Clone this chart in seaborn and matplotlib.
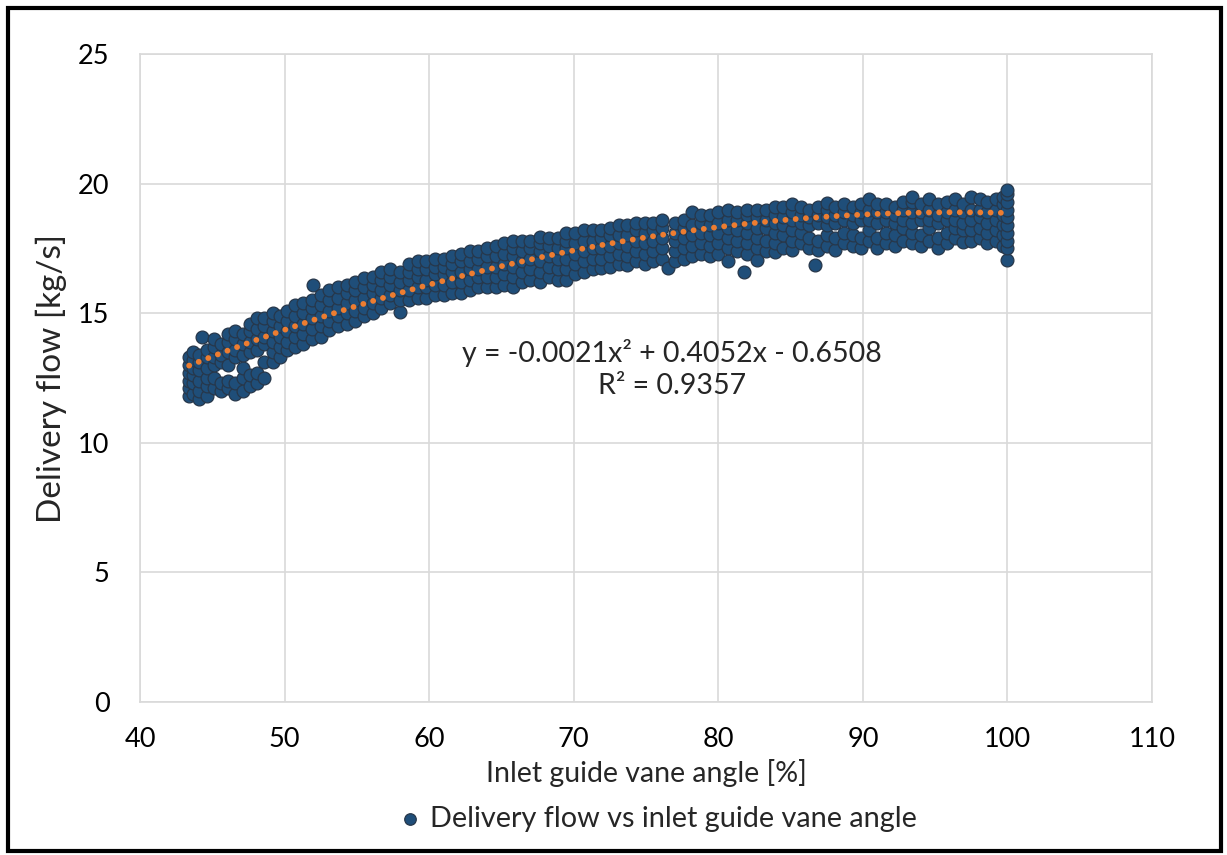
import numpy as np
import pandas as pd
import matplotlib.pyplot as plt
import seaborn as sns
from matplotlib.patches import Rectangle

# scatter values, one vane-angle column per entry
low_cols = [
    (43.4, [11.8, 12.1, 12.4, 12.7, 13.0, 13.3]),
    (43.7, [11.9, 12.3, 12.6, 12.9, 13.2, 13.5]),
    (44.1, [11.7, 12.0, 12.4, 12.8, 13.1, 13.4]),
    (44.3, [14.1]),
    (44.6, [11.8, 12.2, 12.5, 12.9, 13.3, 13.6]),
    (45.1, [12.1, 12.5, 13.0, 13.3, 13.7, 14.0]),
    (45.6, [12.0, 12.3, 13.1, 13.4, 13.8]),
    (46.1, [12.1, 12.4, 13.0, 13.5, 13.9, 14.2]),
    (46.6, [11.9, 12.3, 13.3, 13.6, 14.0, 14.3]),
    (47.1, [12.0, 12.5, 12.9, 13.4, 13.8, 14.2]),
    (47.6, [12.2, 12.6, 13.5, 13.9, 14.3, 14.6]),
    (48.1, [12.3, 12.7, 13.6, 14.0, 14.4, 14.8]),
    (48.6, [12.5, 13.1, 13.8, 14.1, 14.5, 14.8]),
    (49.2, [13.1, 13.5, 13.9, 14.3, 14.7, 15.0]),
    (49.7, [13.3, 13.7, 14.1, 14.5, 14.9]),
    (50.2, [13.6, 13.9, 14.3, 14.7, 15.1]),
    (50.7, [13.7, 14.1, 14.5, 14.9, 15.3]),
    (51.3, [13.8, 14.2, 14.6, 15.0, 15.4]),
    (51.9, [14.0, 14.4, 14.8, 15.2, 15.5]),
    (52.0, [16.1]),
    (52.5, [14.1, 14.5, 14.9, 15.3, 15.7]),
    (53.1, [14.35, 14.7, 15.1, 15.5, 15.9]),
    (53.7, [14.5, 14.9, 15.2, 15.6, 16.0]),
    (54.3, [14.6, 15.0, 15.4, 15.8, 16.1]),
    (54.9, [14.7, 15.1, 15.5, 15.9, 16.2]),
]
mid_cols = [
    (55.5, [14.9, 15.2, 15.6, 16.0, 16.35]),
    (56.1, [15.0, 15.4, 15.8, 16.1, 16.4]),
    (56.7, [15.2, 15.6, 15.9, 16.3, 16.6]),
    (57.3, [15.4, 15.7, 16.1, 16.4, 16.7]),
    (58.0, [15.05, 15.5, 15.9, 16.2, 16.6]),
    (58.6, [15.5, 15.9, 16.3, 16.6, 16.9]),
    (59.2, [15.6, 16.0, 16.4, 16.7, 17.0]),
    (59.8, [15.6, 16.0, 16.3, 16.7, 17.0]),
    (60.4, [15.7, 16.1, 16.5, 16.8, 17.1]),
    (61.0, [15.7, 16.1, 16.5, 16.8, 17.1]),
    (61.6, [15.8, 16.2, 16.6, 16.9, 17.2]),
    (62.2, [15.8, 16.2, 16.6, 17.0, 17.3]),
    (62.8, [15.9, 16.3, 16.7, 17.0, 17.4]),
    (63.4, [16.0, 16.4, 16.7, 17.1, 17.4]),
    (64.0, [16.0, 16.4, 16.8, 17.2, 17.5]),
    (64.6, [16.0, 16.4, 16.8, 17.2, 17.6]),
    (65.2, [16.1, 16.5, 16.9, 17.3, 17.7]),
    (65.8, [16.0, 16.4, 16.8, 17.2, 17.5, 17.8]),
    (66.4, [16.2, 16.6, 17.0, 17.4, 17.8]),
    (67.0, [16.3, 16.7, 17.1, 17.5, 17.8]),
    (67.7, [16.2, 16.6, 17.0, 17.4, 17.7, 17.95]),
    (68.3, [16.4, 16.8, 17.2, 17.6, 17.9]),
    (68.9, [16.3, 16.7, 17.1, 17.5, 17.9]),
    (69.5, [16.3, 16.7, 17.1, 17.5, 17.8, 18.1]),
    (70.1, [16.5, 16.9, 17.3, 17.7, 18.1]),
    (70.7, [16.6, 17.0, 17.4, 17.8, 18.2]),
    (71.3, [16.7, 17.1, 17.5, 17.8, 18.2]),
    (71.9, [16.75, 17.1, 17.5, 17.9, 18.2]),
    (72.5, [16.8, 17.2, 17.6, 18.0, 18.3]),
    (73.1, [16.9, 17.3, 17.7, 18.0, 18.4]),
    (73.7, [16.85, 17.2, 17.6, 18.0, 18.4]),
    (74.3, [17.0, 17.4, 17.8, 18.2, 18.5]),
    (74.9, [16.9, 17.3, 17.7, 18.1, 18.5]),
    (75.5, [17.0, 17.4, 17.8, 18.2, 18.5]),
    (76.1, [17.1, 17.5, 17.9, 18.3, 18.6]),
    (76.5, [16.75]),
    (77.0, [17.0, 17.4, 17.8, 18.1, 18.5]),
    (77.6, [17.1, 17.5, 17.9, 18.3, 18.6]),
    (78.2, [17.2, 17.6, 18.0, 18.4, 18.9]),
    (78.8, [17.3, 17.7, 18.1, 18.5, 18.8]),
    (79.4, [17.2, 17.6, 18.0, 18.4, 18.8]),
]
high_cols = [
    (80.0, [17.3, 17.7, 18.1, 18.5, 18.9]),
    (80.7, [17.0, 17.5, 17.9, 18.3, 18.6, 19.0]),
    (81.3, [17.4, 17.8, 18.2, 18.6, 18.9]),
    (81.8, [16.6]),
    (82.0, [17.3, 17.7, 18.1, 18.5, 18.8, 19.0]),
    (82.7, [17.05, 17.5, 17.9, 18.3, 18.7, 19.0]),
    (83.3, [17.4, 17.8, 18.3, 18.6, 19.0]),
    (83.9, [17.35, 17.7, 18.1, 18.5, 18.8, 19.1]),
    (84.5, [17.5, 18.0, 18.4, 18.7, 19.1]),
    (85.1, [17.45, 17.8, 18.2, 18.6, 18.9, 19.2]),
    (85.7, [17.7, 18.1, 18.5, 18.8, 19.1]),
    (86.3, [17.5, 17.9, 18.4, 18.7, 19.0]),
    (86.7, [16.85]),
    (86.9, [17.45, 17.8, 18.5, 18.8, 19.1]),
    (87.5, [17.6, 18.0, 18.4, 18.7, 19.0, 19.25]),
    (88.1, [17.45, 17.9, 18.5, 18.8, 19.1]),
    (88.7, [17.7, 18.1, 18.6, 18.9, 19.2]),
    (89.3, [17.6, 18.0, 18.5, 18.8, 19.1]),
    (89.9, [17.5, 17.9, 18.6, 18.9, 19.2]),
    (90.4, [17.8, 18.2, 18.6, 19.0, 19.4]),
    (91.0, [17.5, 17.9, 18.5, 18.9, 19.2]),
    (91.6, [17.7, 18.1, 18.6, 18.9, 19.2]),
    (92.2, [17.6, 18.0, 18.5, 18.8, 19.1]),
    (92.8, [17.8, 18.3, 18.6, 19.0, 19.3]),
    (93.4, [17.7, 18.1, 18.5, 18.9, 19.3, 19.5]),
    (94.0, [17.6, 18.0, 18.6, 18.9, 19.2]),
    (94.6, [17.8, 18.3, 18.6, 19.0, 19.4]),
    (95.2, [17.5, 17.9, 18.5, 18.8, 19.2]),
    (95.8, [17.7, 18.1, 18.6, 18.9, 19.3]),
    (96.4, [17.9, 18.3, 18.6, 19.0, 19.4]),
    (96.9, [17.75, 18.2, 18.5, 18.9, 19.2]),
    (97.5, [17.8, 18.2, 18.6, 19.0, 19.5]),
    (98.1, [17.9, 18.3, 18.7, 19.0, 19.4]),
    (98.6, [17.7, 18.1, 18.5, 18.9, 19.3]),
    (99.2, [17.8, 18.2, 18.6, 19.0, 19.4]),
    (99.7, [17.6, 18.0, 18.4, 18.8, 19.2, 19.5]),
    (100.0, [17.05, 17.5, 17.8, 18.1, 18.4, 18.7, 19.0, 19.3, 19.6, 19.75]),
]

# Excel polynomial trendline as printed on the chart
trend_coef = [-0.0021, 0.4052, -0.6508]
trend_label = "y = -0.0021x\u00b2 + 0.4052x - 0.6508\nR\u00b2 = 0.9357"

x_ticks = [40, 50, 60, 70, 80, 90, 100, 110]
y_ticks = [0, 5, 10, 15, 20, 25]

angle, flow = [], []
for cols in (low_cols, mid_cols, high_cols):
    for x, ys in cols:
        for y in ys:
            angle.append(x)
            flow.append(y)
df = pd.DataFrame({"angle": angle, "flow": flow})

tx = np.linspace(min(angle), max(angle), 200)
trend = pd.DataFrame({"angle": tx, "flow": np.polyval(trend_coef, tx)})

sns.set_theme(style="white")
plt.rcParams["font.family"] = ["Lato", "DejaVu Sans"]

fig = plt.figure(figsize=(12.27, 8.55), dpi=100)
ax = fig.add_axes([0.1141, 0.1789, 0.8248, 0.7579])

sns.scatterplot(data=df, x="angle", y="flow", ax=ax, s=85, color="#1f4e79",
                edgecolor="#27374a", linewidth=0.9,
                label="Delivery flow vs inlet guide vane angle", zorder=2)
sns.lineplot(data=trend, x="angle", y="flow", ax=ax, color="#ed7d31",
             linewidth=4.2, linestyle=(0, (0.01, 1.75)), dash_capstyle="round",
             zorder=3, legend=False)

ax.set_xlim(40, 110)
ax.set_ylim(0, 25)
ax.set_xticks(x_ticks)
ax.set_yticks(y_ticks)
ax.grid(True, color="#d9d9d9", linewidth=1.2)
ax.set_axisbelow(True)
for s in ax.spines.values():
    s.set_color("#d9d9d9")
    s.set_linewidth(1.2)
ax.tick_params(length=0, labelsize=19.5, colors="black")
ax.tick_params(axis="y", pad=22)
ax.tick_params(axis="x", pad=18)
ax.set_xlabel("Inlet guide vane angle [%]", fontsize=20.5, labelpad=5)
ax.set_ylabel("Delivery flow [kg/s]", fontsize=24, labelpad=8)

ax.text(76.8, 12.85, trend_label, ha="center", va="center", fontsize=20.5,
        linespacing=1.25)

ax.legend(loc="center", bbox_to_anchor=(0.503, -0.18), frameon=False,
          fontsize=20.8, handletextpad=-0.3, markerscale=0.9)

fig.patches.append(Rectangle((8 / 1227, 4 / 855), 1213 / 1227, 843 / 855,
                             transform=fig.transFigure, fill=False,
                             edgecolor="black", linewidth=3))

fig.savefig("out.png", dpi=100)
